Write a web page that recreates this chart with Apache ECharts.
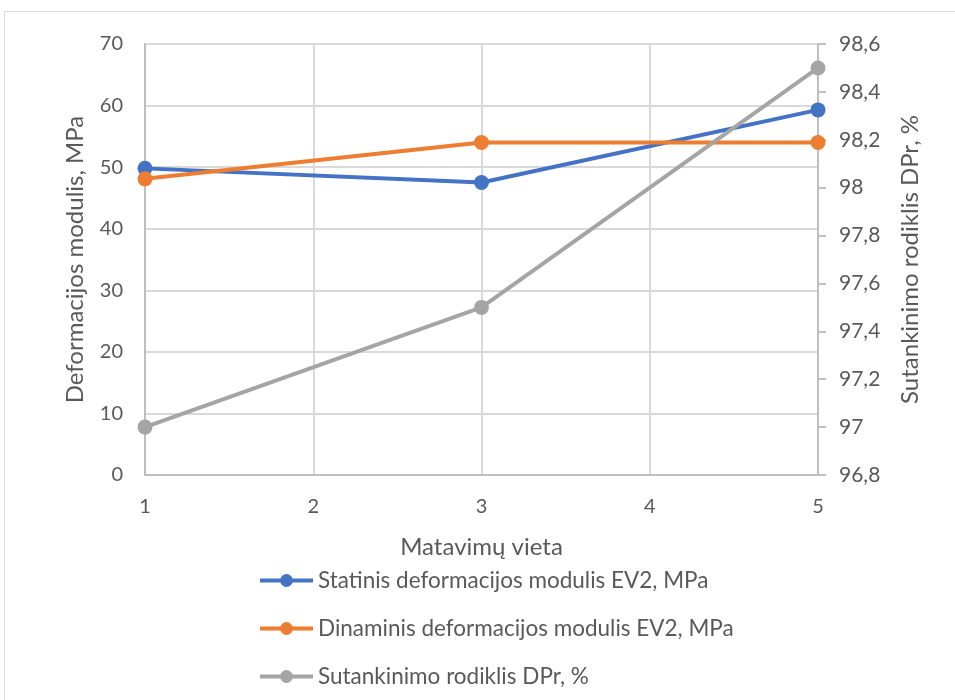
<!DOCTYPE html>
<html>
<head>
<meta charset="utf-8">
<script src="https://cdn.jsdelivr.net/npm/echarts@6/dist/echarts.min.js"></script>
<style>
  html, body { margin: 0; padding: 0; background: #fff; }
  #frame { position: absolute; left: 4px; top: 11px; width: 955px; height: 700px; border: 1px solid #d9d9d9; box-sizing: border-box; }
  #chart { position: absolute; left: 0; top: 0; width: 955px; height: 700px; }
</style>
</head>
<body>
<div id="frame"></div>
<div id="chart"></div>
<script>
  const places = [1, 3, 5];
  const staticModulus = [49.8, 47.5, 59.3];
  const dynamicModulus = [48.1, 54.0, 54.0];
  const compaction = [97.0, 97.5, 98.5];

  const names = [
    'Statinis deformacijos modulis EV2, MPa',
    'Dinaminis deformacijos modulis EV2, MPa',
    'Sutankinimo rodiklis DPr, %',
  ];
  const colors = ['#4472c4', '#ed7d31', '#a5a5a5'];

  const font = 'Lato, Open Sans, sans-serif';
  const textColor = '#595959';

  function pairs(values) {
    return places.map((x, i) => [x, values[i]]);
  }

  function lineSeries(name, values, color, yAxisIndex) {
    return {
      name,
      type: 'line',
      yAxisIndex,
      data: pairs(values),
      symbol: 'circle',
      symbolSize: 15,
      lineStyle: { width: 4, color },
      itemStyle: { color },
    };
  }

  const chart = echarts.init(document.getElementById('chart'), null, { renderer: 'canvas' });
  chart.setOption({
    animation: false,
    textStyle: { fontFamily: font },
    grid: { left: 145, right: 137, top: 44, bottom: 225 },
    legend: {
      orient: 'vertical',
      left: 258,
      top: 569,
      padding: 0,
      itemWidth: 53,
      itemHeight: 16,
      itemGap: 25,
      lineStyle: { width: 4 },
      textStyle: { color: textColor, fontSize: 22.5, fontFamily: font },
      data: names,
    },
    xAxis: {
      type: 'value',
      min: 1,
      max: 5,
      interval: 1,
      name: 'Matavimų vieta',
      nameLocation: 'middle',
      nameGap: 60,
      nameTextStyle: { color: textColor, fontSize: 24, fontFamily: font },
      axisLine: { lineStyle: { color: '#bfbfbf', width: 2 } },
      axisTick: { show: false },
      axisLabel: { color: textColor, fontSize: 20, margin: 22 },
      splitLine: { lineStyle: { color: '#d9d9d9', width: 2 } },
    },
    yAxis: [
      {
        type: 'value',
        min: 0,
        max: 70,
        interval: 10,
        name: 'Deformacijos modulis, MPa',
        nameLocation: 'middle',
        nameGap: 58,
        nameTextStyle: { color: textColor, fontSize: 24, fontFamily: font },
        axisLine: { show: true, lineStyle: { color: '#bfbfbf', width: 2 } },
        axisTick: { show: false },
        axisLabel: { color: textColor, fontSize: 20, margin: 22 },
        splitLine: { lineStyle: { color: '#d9d9d9', width: 2 } },
      },
      {
        type: 'value',
        min: 96.8,
        max: 98.6,
        interval: 0.2,
        position: 'right',
        name: 'Sutankinimo rodiklis DPr, %',
        nameLocation: 'middle',
        nameGap: 80,
        nameRotate: 90,
        nameTextStyle: { color: textColor, fontSize: 24, fontFamily: font },
        axisLine: { show: true, lineStyle: { color: '#bfbfbf', width: 2 } },
        axisTick: { show: true, length: 8, lineStyle: { color: '#bfbfbf', width: 2 } },
        axisLabel: {
          color: textColor,
          fontSize: 21,
          margin: 21,
          formatter: (v) => String(Math.round(v * 10) / 10).replace('.', ','),
        },
        splitLine: { show: false },
      },
    ],
    series: [
      lineSeries(names[0], staticModulus, colors[0], 0),
      lineSeries(names[1], dynamicModulus, colors[1], 0),
      lineSeries(names[2], compaction, colors[2], 1),
    ],
  });
</script>
</body>
</html>
